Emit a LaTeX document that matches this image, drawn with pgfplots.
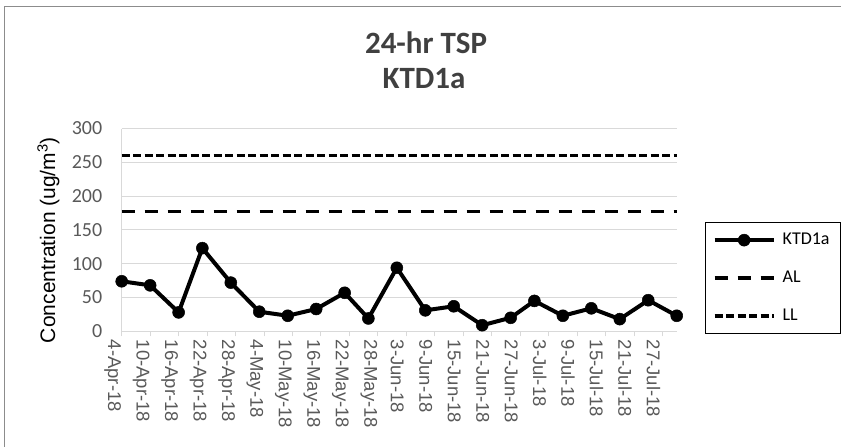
\documentclass[border=0pt]{standalone}
\usepackage{fontspec}
\setmainfont{Carlito}
\newfontfamily\arial{Liberation Sans}
\usepackage{pgfplots}
\pgfplotsset{compat=1.18}
\definecolor{gridgray}{HTML}{D9D9D9}
\definecolor{ticktext}{HTML}{595959}
\definecolor{titlegray}{HTML}{404040}
\definecolor{framegray}{HTML}{8C8C8C}

\begin{document}
\begin{tikzpicture}
\useasboundingbox (0pt,0pt) rectangle (841pt,-447pt);
\draw[color=framegray, line width=1pt] (4.5pt,-447pt) -- (4.5pt,-6.5pt) -- (841pt,-6.5pt);
\node[anchor=base, font=\bfseries\fontsize{31}{36}\selectfont, text=titlegray] at (426pt,-53pt) {24-hr TSP};
\node[anchor=base, font=\bfseries\fontsize{31}{36}\selectfont, text=titlegray] at (424pt,-88.3pt) {KTD1a};
\begin{axis}[
  at={(121.7pt,-331.3pt)}, anchor=south west,
  scale only axis, width=555pt, height=202.8pt,
  xmin=0, xmax=117, ymin=0, ymax=300,
  ytick={0,50,...,300},
  xtick={0,6,...,114},
  xticklabels={4-Apr-18,10-Apr-18,16-Apr-18,22-Apr-18,28-Apr-18,4-May-18,10-May-18,16-May-18,22-May-18,28-May-18,3-Jun-18,9-Jun-18,15-Jun-18,21-Jun-18,27-Jun-18,3-Jul-18,9-Jul-18,15-Jul-18,21-Jul-18,27-Jul-18},
  axis lines*=left,
  axis line style={draw=gridgray, line width=1pt, -},
  ymajorgrids, grid style={draw=gridgray, line width=1pt},
  tick align=outside, major tick length=5pt,
  xtick style={draw=gridgray, line width=1pt},
  ytick style={draw=none},
  /pgf/number format/assume math mode=true,
  yticklabel style={font=\fontsize{20}{22}\selectfont, text=ticktext, xshift=-11pt},
  xticklabel style={rotate=-90, anchor=west, font=\arial\fontsize{18.5}{20}\selectfont, text=ticktext, yshift=-9pt},
  ylabel={Concentration (ug/m\textsuperscript{3})},
  ylabel style={at={(axis description cs:-0.132,0.45)}, anchor=center, rotate=0, font=\arial\fontsize{21}{24}\selectfont, text=black},
  clip=false,
  legend cell align=left,
  legend style={at={(axis description cs:1.051,0.539)}, anchor=north west, draw=black, line width=1.3pt,
    inner xsep=7pt, inner ysep=10pt, font=\fontsize{18}{20}\selectfont, row sep=23pt,
    nodes={inner sep=0pt, text height=12pt, text depth=3pt},
    /tikz/every odd column/.style={column sep=7pt},
    /tikz/every even column/.style={text width=51pt}},
  legend image code/.code={\draw[mark repeat=2,mark phase=2,#1] plot coordinates {(0pt,0pt) (29.5pt,0pt) (59pt,0pt)};},
]
\addplot[black, line width=4pt, mark=*, mark size=6pt, mark options={solid, fill=black, line width=0.5pt}] coordinates {
(0,74) (6,68) (12,28) (17,123) (23,72) (29,29) (35,23) (41,33) (47,57) (52,19)
(58,94) (64,31) (70,37) (76,9) (82,20) (87,45) (93,23) (99,34) (105,18) (111,46) (117,23)};
\addlegendentry{KTD1a}
\addplot[black, line width=3.3pt, dash pattern=on 13pt off 10pt] coordinates {(0,177) (117,177)};
\addlegendentry{AL}
\addplot[black, line width=3.3pt, dash pattern=on 8pt off 3.5pt] coordinates {(0,260) (117,260)};
\addlegendentry{LL}
\end{axis}
\end{tikzpicture}
\end{document}
